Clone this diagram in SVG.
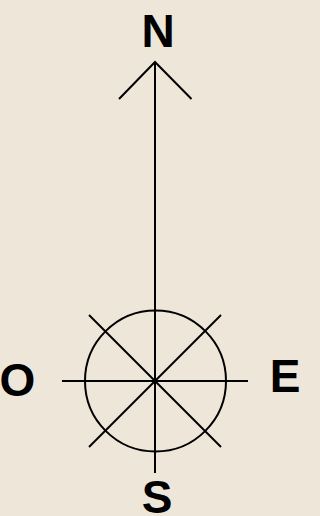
<svg xmlns="http://www.w3.org/2000/svg" width="320" height="516" viewBox="0 0 320 516">
<style>
.ln{stroke:#000;stroke-width:2;fill:none;stroke-linecap:butt}
.lbl{font-family:"Liberation Sans",Arial,sans-serif;font-weight:bold;font-size:46px;fill:#000;text-anchor:middle}
</style>
<rect width="320" height="516" fill="#efe6da"/>
<g id="connectors">
<line class="ln" x1="155" y1="62" x2="155" y2="473"/>
<polyline class="ln" points="119,99 155,62 191.5,99"/>
<line class="ln" x1="62" y1="381" x2="248" y2="381"/>
<line class="ln" x1="89" y1="315" x2="221" y2="447"/>
<line class="ln" x1="221" y1="315" x2="89" y2="447"/>
</g>
<g id="compass">
<circle class="ln" cx="155.5" cy="381" r="70.5"/>
</g>
<g id="label-N"><text class="lbl" x="158" y="47">N</text></g>
<g id="label-O"><text class="lbl" x="17.5" y="396">O</text></g>
<g id="label-E"><text class="lbl" x="285" y="392">E</text></g>
<g id="label-S"><text class="lbl" x="157" y="513">S</text></g>
</svg>
